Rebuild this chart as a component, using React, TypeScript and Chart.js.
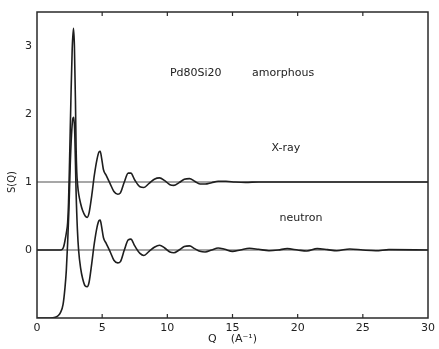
import React, { useEffect, useRef } from "react";
import { Chart, registerables } from "chart.js";

Chart.register(...registerables);

// X-ray S(Q)
const qXray = [0, 1.0, 1.8, 1.95, 2.05, 2.15, 2.25, 2.35, 2.42, 2.5, 2.6, 2.7, 2.8, 2.87, 2.95, 3.0, 3.05, 3.12, 3.2, 3.35, 3.5, 3.7, 3.85, 4.0, 4.2, 4.4, 4.6, 4.75, 4.85, 4.95, 5.1, 5.3, 5.6, 5.9, 6.2, 6.4, 6.7, 7.0, 7.2, 7.5, 7.9, 8.2, 8.6, 9.0, 9.4, 9.8, 10.2, 10.5, 10.9, 11.3, 11.7, 12.1, 12.5, 12.9, 13.4, 13.9, 14.5, 15.2, 16.0, 17.0, 18.0, 20.0, 22.0, 25.0, 28.0, 30.0];
const sXray = [0, 0, 0, 0.01, 0.05, 0.14, 0.25, 0.4, 0.7, 1.32, 2.2, 2.95, 3.26, 3.0, 2.2, 1.5, 1.15, 0.95, 0.82, 0.68, 0.58, 0.5, 0.48, 0.55, 0.8, 1.1, 1.33, 1.44, 1.45, 1.36, 1.18, 1.1, 0.98, 0.86, 0.82, 0.84, 1.0, 1.13, 1.13, 1.03, 0.93, 0.92, 0.98, 1.04, 1.06, 1.02, 0.96, 0.95, 0.99, 1.04, 1.05, 1.01, 0.97, 0.97, 0.99, 1.01, 1.01, 1.0, 0.995, 1.0, 1.0, 1.0, 1.0, 1.0, 1.0, 1.0];

// neutron S(Q) - 1
const qNeutron = [0, 1.0, 1.4, 1.6, 1.8, 2.0, 2.15, 2.25, 2.35, 2.45, 2.55, 2.65, 2.75, 2.82, 2.9, 3.0, 3.1, 3.2, 3.35, 3.5, 3.7, 3.85, 4.0, 4.2, 4.4, 4.6, 4.75, 4.85, 4.95, 5.1, 5.3, 5.6, 5.9, 6.2, 6.4, 6.7, 7.0, 7.2, 7.5, 7.9, 8.2, 8.6, 9.0, 9.4, 9.8, 10.2, 10.5, 10.9, 11.3, 11.7, 12.1, 12.5, 12.9, 13.4, 13.9, 14.4, 15.0, 15.6, 16.3, 17.0, 17.8, 18.5, 19.2, 20.0, 20.7, 21.5, 22.3, 23.0, 24.0, 25.0, 26.0, 27.0, 30.0];
const sNeutron = [-1, -1, -0.99, -0.97, -0.92, -0.8, -0.55, -0.3, 0.1, 0.6, 1.25, 1.7, 1.93, 1.95, 1.7, 0.85, 0.3, -0.02, -0.27, -0.42, -0.53, -0.54, -0.47, -0.2, 0.1, 0.33, 0.43, 0.44, 0.35, 0.18, 0.1, -0.02, -0.15, -0.19, -0.17, 0.0, 0.15, 0.16, 0.06, -0.05, -0.08, -0.02, 0.04, 0.07, 0.03, -0.03, -0.04, 0.0, 0.05, 0.06, 0.02, -0.02, -0.03, 0.0, 0.03, 0.01, -0.02, 0.0, 0.025, 0.01, -0.01, 0.0, 0.02, 0.0, -0.015, 0.02, 0.005, -0.01, 0.015, 0.0, -0.01, 0.005, 0];

// reference levels
const refLevels = [0, 1];
const qRange = [0, 30];
const xTicks = [0, 5, 10, 15, 20, 25, 30];
const yTicks = [0, 1, 2, 3];

const annotations = [
  { text: "Pd80Si20", x: 10.2, y: 2.6 },
  { text: "amorphous", x: 16.5, y: 2.6 },
  { text: "X-ray", x: 18.0, y: 1.5 },
  { text: "neutron", x: 18.6, y: 0.47 },
];

const FONT = "'DejaVu Sans', sans-serif";

const decorPlugin = {
  id: "decor",
  afterDraw(chart: any) {
    const { ctx, chartArea, scales } = chart;
    const { left, right, top, bottom } = chartArea;
    ctx.save();
    ctx.strokeStyle = "#2a2a2a";
    ctx.lineWidth = 1.5;
    ctx.strokeRect(left, top, right - left, bottom - top);
    ctx.lineWidth = 1.2;
    xTicks.forEach((v) => {
      if (v === qRange[0] || v === qRange[1]) return;
      const px = scales.x.getPixelForValue(v);
      ctx.beginPath();
      ctx.moveTo(px, bottom);
      ctx.lineTo(px, bottom - 4);
      ctx.moveTo(px, top);
      ctx.lineTo(px, top + 4);
      ctx.stroke();
    });
    ctx.fillStyle = "#222";
    ctx.font = `11px ${FONT}`;
    ctx.textAlign = "left";
    ctx.textBaseline = "middle";
    annotations.forEach((a) => {
      ctx.fillText(a.text, scales.x.getPixelForValue(a.x), scales.y.getPixelForValue(a.y));
    });
    // y axis title
    ctx.translate(12, scales.y.getPixelForValue(1.0));
    ctx.rotate(-Math.PI / 2);
    ctx.textAlign = "center";
    ctx.font = `10px ${FONT}`;
    ctx.fillText("S(Q)", 0, 0);
    ctx.restore();
  },
};

export default function App() {
  const ref = useRef<HTMLCanvasElement>(null);
  useEffect(() => {
    if (!ref.current) return;
    const curve = (q: number[], s: number[]) => q.map((x, i) => ({ x, y: s[i] }));
    const chart = new Chart(ref.current, {
      type: "line",
      data: {
        datasets: [
          ...refLevels.map((lv) => ({
            data: qRange.map((x) => ({ x, y: lv })),
            borderColor: "#8a8a8a",
            borderWidth: 1.5,
            pointRadius: 0,
            order: 2,
          })),
          {
            label: "X-ray",
            data: curve(qXray, sXray),
            borderColor: "#1e1e1e",
            borderWidth: 1.6,
            pointRadius: 0,
            cubicInterpolationMode: "monotone" as const,
            order: 1,
          },
          {
            label: "neutron",
            data: curve(qNeutron, sNeutron),
            borderColor: "#1e1e1e",
            borderWidth: 1.6,
            pointRadius: 0,
            cubicInterpolationMode: "monotone" as const,
            order: 1,
          },
        ],
      },
      options: {
        responsive: false,
        animation: false,
        layout: { padding: { top: 12, right: 6, left: 0, bottom: 0 } },
        plugins: { legend: { display: false }, tooltip: { enabled: false } },
        scales: {
          x: {
            type: "linear",
            min: qRange[0],
            max: qRange[1],
            afterBuildTicks: (s: any) => {
              s.ticks = xTicks.map((value) => ({ value }));
            },
            afterFit: (s: any) => {
              s.height = 31;
            },
            grid: { display: false, drawTicks: false },
            border: { display: false },
            ticks: { color: "#222", padding: 4, font: { family: FONT, size: 11 }, maxRotation: 0 },
            title: {
              display: true,
              text: "Q    (A\u207B\u00B9)",
              color: "#222",
              font: { family: FONT, size: 11 },
              padding: { top: 0, bottom: 3 },
            },
          },
          y: {
            type: "linear",
            min: -1,
            max: 3.5,
            afterBuildTicks: (s: any) => {
              s.ticks = yTicks.map((value) => ({ value }));
            },
            afterFit: (s: any) => {
              s.width = 37;
            },
            grid: { display: false, drawTicks: false },
            border: { display: false },
            ticks: { color: "#222", padding: 5, font: { family: FONT, size: 11 } },
          },
        },
      },
      plugins: [decorPlugin],
    });
    return () => chart.destroy();
  }, []);
  return (
    <div style={{ position: "fixed", left: 0, top: 0, width: 439, height: 349, background: "#fff" }}>
      <canvas ref={ref} width={439} height={349} style={{ display: "block" }} />
    </div>
  );
}
